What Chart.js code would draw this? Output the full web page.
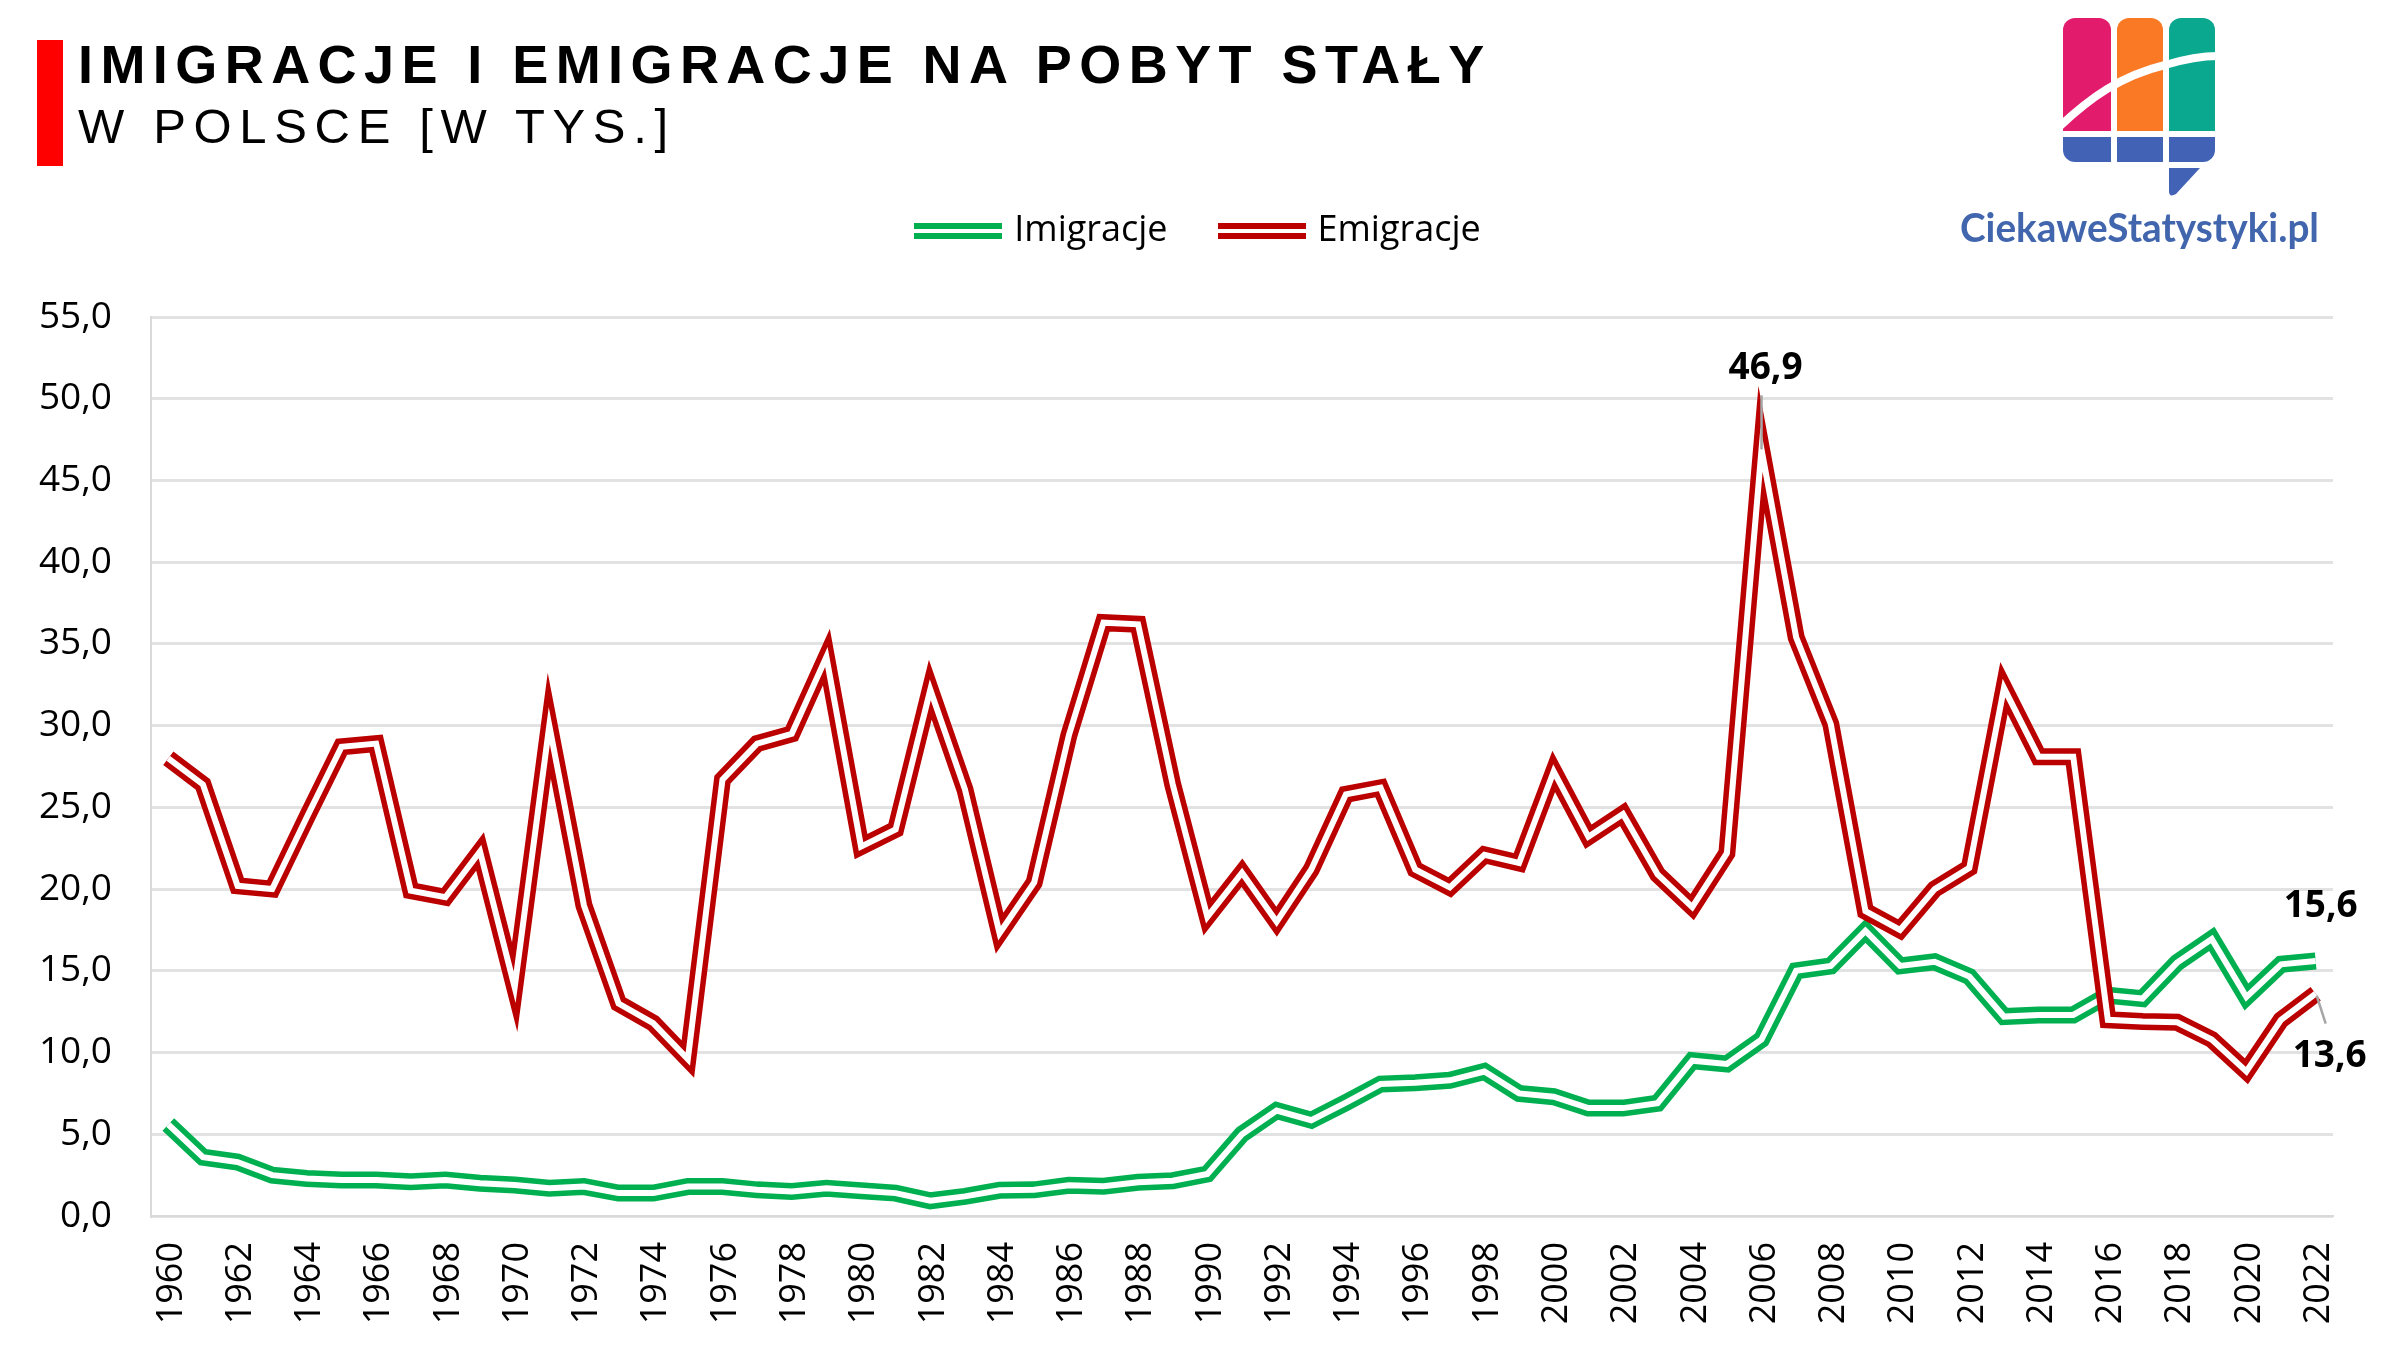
<!DOCTYPE html>
<html>
<head>
<meta charset="utf-8">
<title>Imigracje i emigracje</title>
<script src="https://cdn.jsdelivr.net/npm/chart.js@4"></script>
<style>
    html, body { margin: 0; background: #fff; overflow: hidden; }
    #stage { position: relative; width: 2384px; height: 1354px; }
    #chart { position: absolute; left: 0; top: 0; }
    .bar { position: absolute; left: 37px; top: 40px; width: 26px; height: 126px; background: #ff0000; }
    .title { position: absolute; left: 78px; font-family: "Liberation Sans", Arial, sans-serif; color: #000; white-space: nowrap; }
    #t1 { top: 33px; font-size: 54px; font-weight: bold; letter-spacing: 7.43px; }
    #t2 { top: 98px; font-size: 49px; letter-spacing: 7.67px; }
    #logo { position: absolute; left: 1950px; top: 10px; }
</style>
</head>
<body>
<div id="stage">
    <canvas id="chart" width="2384" height="1354"></canvas>
    <div class="bar"></div>
    <div class="title" id="t1">IMIGRACJE I EMIGRACJE NA POBYT STAŁY</div>
    <div class="title" id="t2">W POLSCE [W TYS.]</div>
    <svg id="logo" width="380" height="250" viewBox="1950 10 380 250">
        <path d="M2063 131V30a12 12 0 0 1 12-12h24a12 12 0 0 1 12 12v101z" fill="#e31b6d"/>
        <path d="M2117 131V30a12 12 0 0 1 12-12h22a12 12 0 0 1 12 12v101z" fill="#f97924"/>
        <path d="M2169 131V30a12 12 0 0 1 12-12h22a12 12 0 0 1 12 12v101z" fill="#0aa88f"/>
        <path d="M2060 126C2090 98 2120 76 2165 65C2185 59 2200 56 2218 56" fill="none" stroke="#fff" stroke-width="8"/>
        <path d="M2063 137h48v25h-36a12 12 0 0 1-12-12z" fill="#4263b5"/>
        <rect x="2117" y="137" width="46" height="25" fill="#4263b5"/>
        <path d="M2169 137h46v13a12 12 0 0 1-12 12h-34z" fill="#4263b5"/>
        <path d="M2169 168h31l-24 26q-7 4-7-3z" fill="#4263b5"/>
        <text x="1960" y="242" font-family="Lato, sans-serif" font-weight="bold" font-size="41" fill="#4266ad" textLength="359" lengthAdjust="spacingAndGlyphs">CiekaweStatystyki.pl</text>
    </svg>
</div>
<script>
const years = [];
for (let y = 1960; y <= 2022; y++) years.push(String(y));

const imigracje = [
    5.6, 3.6, 3.3, 2.5, 2.3, 2.2, 2.2, 2.1, 2.2, 2.0,
    1.9, 1.7, 1.8, 1.4, 1.4, 1.8, 1.8, 1.6, 1.5, 1.7,
    1.55, 1.4, 0.93, 1.2, 1.57, 1.6, 1.88, 1.82, 2.06, 2.16,
    2.57, 5.0, 6.45, 5.86, 6.94, 8.07, 8.15, 8.3, 8.84, 7.5,
    7.3, 6.6, 6.6, 6.9, 9.5, 9.3, 10.8, 15.0, 15.3, 17.45,
    15.3, 15.55, 14.65, 12.2, 12.3, 12.3, 13.5, 13.3, 15.5, 16.95,
    13.4, 15.4, 15.6
];
const emigracje = [
    28.0, 26.4, 20.2, 20.0, 24.4, 28.7, 28.9, 19.9, 19.5, 22.3,
    14.0, 30.0, 19.0, 13.0, 11.8, 9.6, 26.7, 28.9, 29.5, 34.2,
    22.6, 23.65, 32.2, 26.1, 17.3, 20.4, 29.4, 36.3, 36.2, 26.4,
    18.3, 21.0, 18.0, 21.2, 25.8, 26.2, 21.2, 20.1, 22.1, 21.6,
    27.2, 23.2, 24.6, 20.9, 18.9, 22.2, 46.9, 35.4, 30.1, 18.65,
    17.5, 20.0, 21.3, 32.3, 28.1, 28.1, 12.0, 11.9, 11.85, 10.8,
    8.85, 12.0, 13.6
];
const yTicks = [0, 5, 10, 15, 20, 25, 30, 35, 40, 45, 50, 55];

const GREEN = '#00b050';
const RED = '#bb0000';
const TICK_FONT = '"Open Sans", sans-serif';

const fmt = v => v.toFixed(1).replace('.', ',');

// the double stroke: wide coloured line with a white line on top
function doubleLine(label, data, color, order) {
    const base = { data, pointRadius: 0, tension: 0, borderCapStyle: 'butt', borderJoinStyle: 'miter' };
    return [
        { ...base, label: label + ' środek', borderColor: '#fff', borderWidth: 6, order },
        { ...base, label, borderColor: color, borderWidth: 17, order: order + 1 }
    ];
}

function swatch(color) {
    const c = document.createElement('canvas');
    c.width = 88;
    c.height = 16;
    const g = c.getContext('2d');
    g.fillStyle = color;
    g.fillRect(0, 0, 88, 6);
    g.fillRect(0, 10, 88, 6);
    return c;
}

// value labels with their thin leader lines
const calloutPlugin = {
    id: 'callouts',
    afterDatasetsDraw(chart) {
        const { ctx, scales } = chart;
        const items = [
            { i: 46, v: emigracje[46], dx: 4, dy: -81, line: [0, -54, 0, 0] },
            { i: 62, v: imigracje[62], dx: 5, dy: -55 },
            { i: 62, v: emigracje[62], dx: 14, dy: 63, line: [1, 2, 10, 30] }
        ];
        ctx.save();
        items.forEach(o => {
            const x = scales.x.getPixelForValue(o.i);
            const y = scales.y.getPixelForValue(o.v);
            if (o.line) {
                ctx.strokeStyle = '#a6a6a6';
                ctx.lineWidth = 2.5;
                ctx.beginPath();
                ctx.moveTo(x + o.line[0], y + o.line[1]);
                ctx.lineTo(x + o.line[2], y + o.line[3]);
                ctx.stroke();
            }
            ctx.fillStyle = '#000';
            ctx.font = 'bold 37px ' + TICK_FONT;
            ctx.textAlign = 'center';
            ctx.textBaseline = 'middle';
            ctx.fillText(fmt(o.v), x + o.dx, y + o.dy);
        });
        ctx.restore();
    },
    afterLayout(chart) {
        // legend sits higher and further right than the default slot
        chart.legend.left += 34;
        chart.legend.right += 34;
        chart.legend.top -= 58;
        chart.legend.bottom -= 58;
    }
};

new Chart(document.getElementById('chart'), {
    type: 'line',
    data: {
        labels: years,
        datasets: [
            ...doubleLine('Emigracje', emigracje, RED, 1),
            ...doubleLine('Imigracje', imigracje, GREEN, 3)
        ]
    },
    options: {
        responsive: false,
        animation: false,
        devicePixelRatio: 1,
        layout: { padding: { left: 0, right: 51, top: 215, bottom: 0 } },
        plugins: {
            title: { display: false },
            tooltip: { enabled: false },
            legend: {
                position: 'top',
                labels: {
                    usePointStyle: true,
                    pointStyleWidth: 76,
                    padding: 56,
                    color: '#000',
                    font: { family: TICK_FONT, size: 36 },
                    generateLabels: () => [
                        { text: 'Imigracje', pointStyle: swatch(GREEN), lineWidth: 0 },
                        { text: 'Emigracje', pointStyle: swatch(RED), lineWidth: 0 }
                    ]
                }
            }
        },
        scales: {
            x: {
                offset: true,
                grid: { display: false },
                border: { color: '#d9d9d9', width: 2 },
                afterFit: s => { s.height = 138; },
                ticks: {
                    autoSkip: false,
                    maxRotation: 90,
                    minRotation: 90,
                    color: '#000',
                    padding: 18,
                    labelOffset: 3,
                    font: { family: TICK_FONT, size: 36 },
                    callback: (v, i) => (i % 2 === 0 ? years[i] : '')
                }
            },
            y: {
                min: 0,
                max: 55,
                afterBuildTicks: s => { s.ticks = yTicks.map(value => ({ value })); },
                afterFit: s => { s.width = 151; },
                grid: { color: '#e2e2e2', lineWidth: 3, drawTicks: false },
                border: { color: '#d9d9d9', width: 2 },
                ticks: {
                    color: '#000',
                    padding: 39,
                    font: { family: TICK_FONT, size: 37 },
                    callback: v => fmt(v)
                }
            }
        }
    },
    plugins: [calloutPlugin]
});
</script>
</body>
</html>
